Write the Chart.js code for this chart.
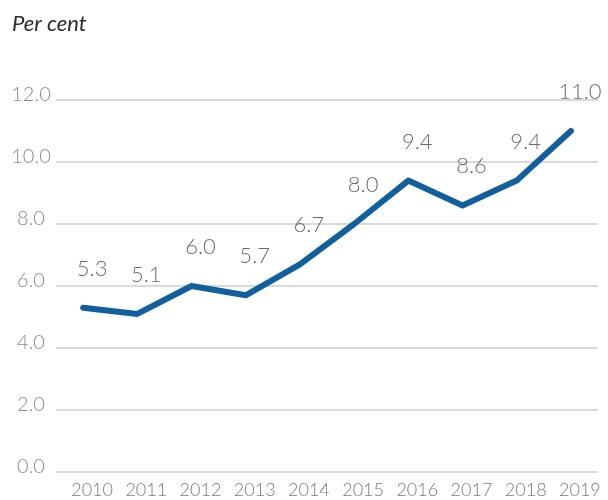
<!DOCTYPE html>
<html>
<head>
<meta charset="utf-8">
<script src="https://cdn.jsdelivr.net/npm/chart.js@4"></script>
<style>
  html, body { margin: 0; padding: 0; background: #fff; }
  #wrap { width: 608px; height: 500px; }
</style>
</head>
<body>
<div id="wrap"><canvas id="myChart" width="608" height="500"></canvas></div>
<script>
const years = ['2010', '2011', '2012', '2013', '2014', '2015', '2016', '2017', '2018', '2019'];
const shares = [5.3, 5.1, 6.0, 5.7, 6.7, 8.0, 9.4, 8.6, 9.4, 11.0];
const yTicks = [0, 2, 4, 6, 8, 10, 12];

const ctx = document.getElementById('myChart').getContext('2d');
const FONT = 'Lato, "Open Sans", sans-serif';

// y tick labels sit above the left end of each gridline, plus the unit title
const sideLabels = {
    id: 'sideLabels',
    afterDraw(chart) {
        const c = chart.ctx;
        const y = chart.scales.y;
        c.save();
        c.fillStyle = '#8c8c8c';
        c.font = '300 20px ' + FONT;
        c.textAlign = 'center';
        c.textBaseline = 'alphabetic';
        yTicks.forEach(v => {
            c.fillText(v.toFixed(1), 31, y.getPixelForValue(v) + 1);
        });
        c.fillStyle = '#2b2b2b';
        c.font = 'italic 400 22px ' + FONT;
        c.textAlign = 'left';
        c.fillText('Per cent', 12, 31);
        c.restore();
    }
};

// value labels above each point
const valueLabels = {
    id: 'valueLabels',
    afterDatasetsDraw(chart) {
        const c = chart.ctx;
        const meta = chart.getDatasetMeta(0);
        c.save();
        c.fillStyle = '#6b6b6b';
        c.font = '300 22px ' + FONT;
        c.textAlign = 'center';
        c.textBaseline = 'middle';
        meta.data.forEach((pt, i) => {
            c.fillText(shares[i].toFixed(1), pt.x + 9, pt.y - 39);
        });
        c.restore();
    }
};

new Chart(ctx, {
    type: 'line',
    data: {
        labels: years,
        datasets: [{
            data: shares,
            borderColor: '#125f9e',
            borderWidth: 6,
            borderCapStyle: 'round',
            borderJoinStyle: 'round',
            pointRadius: 0,
            tension: 0,
            fill: false
        }]
    },
    options: {
        responsive: false,
        animation: false,
        layout: {
            padding: { left: 56, right: 10, top: 100, bottom: 0 }
        },
        plugins: {
            legend: { display: false },
            tooltip: { enabled: false }
        },
        scales: {
            x: {
                offset: true,
                grid: { display: false, drawTicks: false },
                border: { display: false },
                ticks: {
                    color: '#7a7a7a',
                    font: { family: FONT, size: 18, weight: 300 },
                    padding: 7,
                    labelOffset: 9,
                    maxRotation: 0,
                    autoSkip: false
                },
                afterFit: s => { s.height = 28; }
            },
            y: {
                min: 0,
                max: 12,
                ticks: { stepSize: 2, display: false },
                grid: { color: '#dadada', lineWidth: 2, drawTicks: false },
                border: { display: false },
                afterFit: s => { s.width = 0; }
            }
        }
    },
    plugins: [sideLabels, valueLabels]
});
</script>
</body>
</html>
